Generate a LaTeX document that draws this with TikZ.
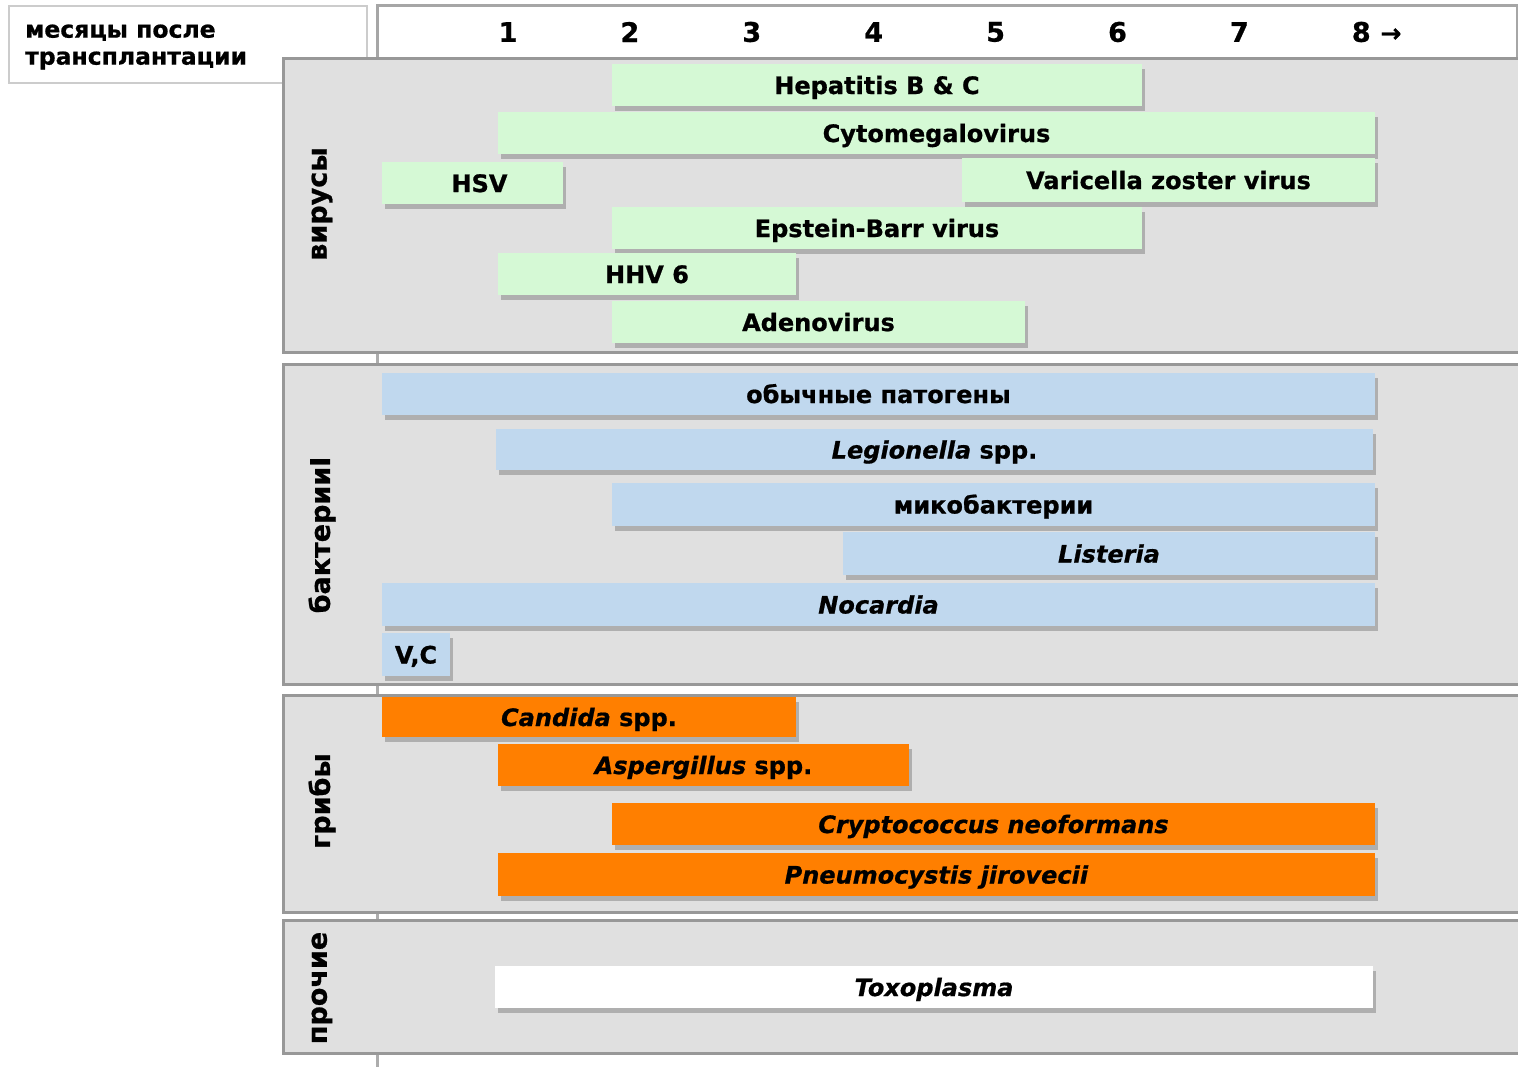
\documentclass[tikz,border=0pt]{standalone}
\usepackage{fontspec}
\setmainfont{DejaVu Sans}[BoldFont={DejaVu Sans Bold},ItalicFont={DejaVu Sans Oblique},BoldItalicFont={DejaVu Sans Bold Oblique},BoldFeatures={FakeBold=0.8},BoldItalicFeatures={FakeBold=0.8}]
\usepackage{tikz}
\usetikzlibrary{calc,positioning,shadows}
\usepackage{xcolor}
\definecolor{panelgray}{HTML}{E0E0E0}
\definecolor{panelline}{HTML}{989898}
\definecolor{virgreen}{HTML}{D5F9D5}
\definecolor{bacblue}{HTML}{C0D8EE}
\definecolor{fungorange}{HTML}{FF7F00}

\tikzset{
  bar/.style={inner sep=0pt, text height=20pt, text depth=2pt,
    font=\fontsize{24}{27}\selectfont\bfseries,
    drop shadow={shadow xshift=3pt, shadow yshift=-5pt, opacity=0.5}},
  panel/.style={fill=panelgray, draw=panelline, line width=3pt},
  grouplabel/.style={rotate=90, font=\fontsize{27}{30}\selectfont\bfseries},
  month/.style={font=\fontsize{27}{30}\selectfont\bfseries}
}

\begin{document}
\begin{tikzpicture}[x=1pt,y=-1pt]
\useasboundingbox (0,0) rectangle (1518,1066);
\clip (0,0) rectangle (1518,1066);

%% header boxes and the month axis
\draw[panelline!80, line width=3pt] (377,5) -- (377,1070);
\draw[black!20, line width=2pt, fill=white] (9,6) rectangle (367,83);
\node[anchor=west, align=left, inner sep=0pt,
      font=\fontsize{23.5}{27}\selectfont\bfseries] (hdr) at (25,47)
  {месяцы после\\трансплантации};
\draw[black!35, line width=3pt, fill=white] (377,5) rectangle (1517,58);
\foreach \m in {1,...,8}{
  \node[month] (m\m) at ({508+(\m-1)*121.9},32) {\m};
}
\node[month, anchor=base west, inner sep=0pt, font=\fontsize{25}{26}\selectfont\bfseries]
  (arr) at ($(m8.base east)+(6,0)$) {→};

%% group panels
\draw[panel] (283,58)  rectangle (1530,352);
\draw[panel] (283,364) rectangle (1530,684);
\draw[panel] (283,695) rectangle (1530,912);
\draw[panel] (283,920) rectangle (1530,1053);
\node[grouplabel] (gvir)  at (322,204) {вирусы};
\node[grouplabel] (gbac)  at (322,535) {бактерииI};
\node[grouplabel] (gfun)  at (322,801) {грибы};
\node[grouplabel] (goth)  at (322,988) {прочие};

%% bars: name / left / right / top / bottom / label
\foreach \nm/\xa/\xb/\ya/\yb/\txt in {
  hep/612/1142/64/106/{Hepatitis B \& C},
  cmv/498/1375/112/154/{Cytomegalovirus},
  hsv/382/563/162/204/{\hspace*{14pt}HSV},
  vzv/962/1375/158/202/{Varicella zoster virus},
  ebv/612/1142/207/249/{Epstein-Barr virus},
  hhv/498/796/253/295/{HHV 6},
  adv/612/1025/301/343/{Adenovirus}
}{
  \pgfmathsetmacro\w{\xb-\xa}
  \pgfmathsetmacro\h{\yb-\ya}
  \node[bar, fill=virgreen, minimum width=\w pt, minimum height=\h pt]
    (\nm) at ({(\xa+\xb)/2},{(\ya+\yb)/2}) {\txt};
}

\foreach \nm/\xa/\xb/\ya/\yb/\txt in {
  usual/382/1375/373/415/{обычные патогены},
  leg/496/1373/429/470/{\textit{Legionella} spp.},
  myc/612/1375/483/526/{микобактерии},
  lis/843/1375/532/575/{\textit{Listeria}},
  noc/382/1375/583/626/{\textit{Nocardia}},
  vc/382/450/633/676/{V,C}
}{
  \pgfmathsetmacro\w{\xb-\xa}
  \pgfmathsetmacro\h{\yb-\ya}
  \node[bar, fill=bacblue, minimum width=\w pt, minimum height=\h pt]
    (\nm) at ({(\xa+\xb)/2},{(\ya+\yb)/2}) {\txt};
}

\foreach \nm/\xa/\xb/\ya/\yb/\txt in {
  can/382/796/697/737/{\textit{Candida} spp.},
  asp/498/909/744/786/{\textit{Aspergillus} spp.},
  cry/612/1375/803/845/{\textit{Cryptococcus neoformans}},
  pne/498/1375/853/896/{\textit{Pneumocystis jirovecii}}
}{
  \pgfmathsetmacro\w{\xb-\xa}
  \pgfmathsetmacro\h{\yb-\ya}
  \node[bar, fill=fungorange, minimum width=\w pt, minimum height=\h pt]
    (\nm) at ({(\xa+\xb)/2},{(\ya+\yb)/2}) {\txt};
}

\node[bar, fill=white, minimum width=878pt, minimum height=42pt]
  (tox) at (934,987) {\textit{Toxoplasma}};
\end{tikzpicture}
\end{document}
